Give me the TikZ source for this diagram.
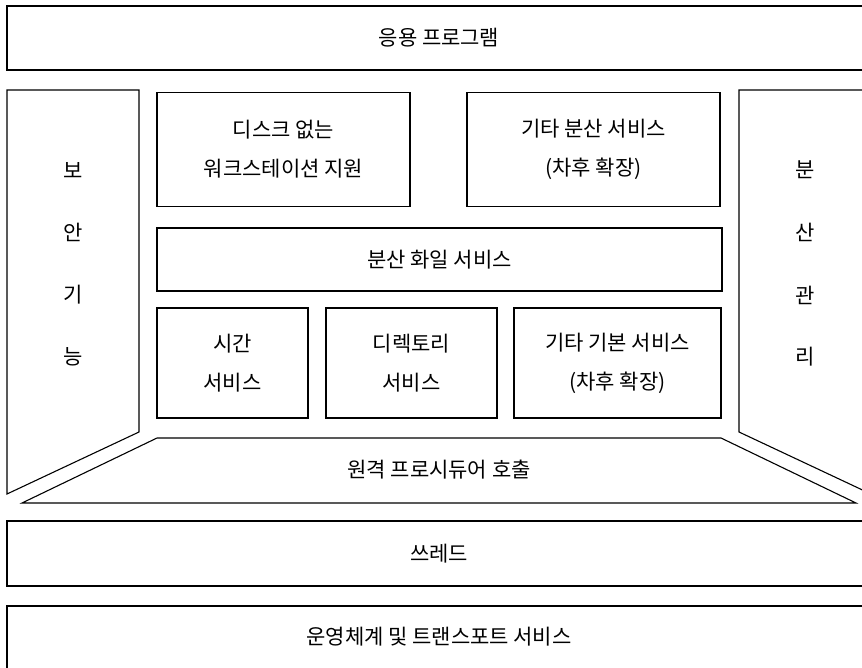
\documentclass[tikz,border=0pt]{standalone}
\usepackage{fontspec}
\setmainfont{Noto Sans CJK KR}
\begin{document}
\begin{tikzpicture}[x=1pt,y=-1pt,
  box/.style={draw, line width=1.1pt, rectangle, inner sep=0pt, align=center, font=\fontsize{21}{39}\selectfont},
  lbl/.style={inner sep=0pt, font=\fontsize{21}{39}\selectfont},
  edge/.style={line width=1.1pt, line join=miter}]
\useasboundingbox (0,0) rectangle (862,668);
% top application box
\node[box, minimum width=864pt, minimum height=64pt] (app) at (439,38) {응용 프로그램};
% side panels
\draw[edge] (7,90) -- (139,90) -- (139,432) -- (7,494) -- cycle;
\draw[edge] (739,90) -- (871,90) -- (871,494) -- (739,432) -- cycle;
\node[lbl] (s1) at (73,170) {보};
\node[lbl] (s2) at (73,232) {안};
\node[lbl] (s3) at (73,295) {기};
\node[lbl] (s4) at (73,357) {능};
\node[lbl] (d1) at (805,170) {분};
\node[lbl] (d2) at (805,232) {산};
\node[lbl] (d3) at (805,295) {관};
\node[lbl] (d4) at (805,357) {리};
% upper inner boxes
\node[box, minimum width=253pt, minimum height=114pt] (disk) at (283.5,149.5) {디스크 없는\\워크스테이션 지원};
\node[box, minimum width=253pt, minimum height=114pt] (other) at (593.5,149.5) {기타 분산 서비스\\(차후 확장)};
% distributed file service
\node[box, minimum width=565pt, minimum height=63pt] (dfs) at (439.5,259.5) {분산 화일 서비스};
% bottom row
\node[box, minimum width=151pt, minimum height=110pt] (time) at (232.5,363) {시간\\서비스};
\node[box, minimum width=171pt, minimum height=110pt] (dir) at (411.5,363) {디렉토리\\서비스};
\node[box, minimum width=207pt, minimum height=110pt] (base) at (617.5,363) {기타 기본 서비스\\(차후 확장)};
% RPC trapezoid
\draw[edge] (157,438) -- (721,438) -- (856,503) -- (22,503) -- cycle;
\node[lbl] (rpc) at (439,470) {원격 프로시듀어 호출};
% threads
\node[box, minimum width=864pt, minimum height=65pt] (thr) at (439,553.5) {쓰레드};
% OS box
\node[box, minimum width=864pt, minimum height=80pt] (os) at (439,646) {};
\node[lbl] (ostext) at (439,637) {운영체계 및 트랜스포트 서비스};
\end{tikzpicture}
\end{document}
